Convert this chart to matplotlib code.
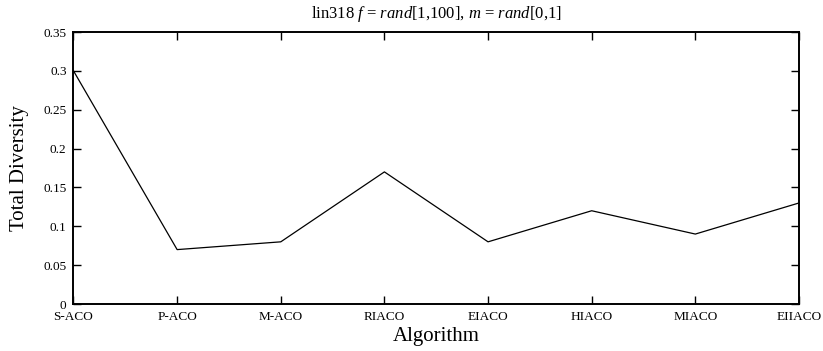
import matplotlib
matplotlib.use("Agg")
import matplotlib.pyplot as plt

# data
algorithms = ["S-ACO", "P-ACO", "M-ACO", "RIACO", "EIACO", "HIACO", "MIACO", "EIIACO"]
diversity = [0.30, 0.07, 0.08, 0.17, 0.08, 0.12, 0.09, 0.13]
y_ticks = [0, 0.05, 0.1, 0.15, 0.2, 0.25, 0.3, 0.35]
y_tick_labels = ["0", "0.05", "0.1", "0.15", "0.2", "0.25", "0.3", "0.35"]

plt.rcParams['font.family'] = ['Liberation Serif', 'DejaVu Serif']
plt.rcParams['mathtext.fontset'] = 'custom'
plt.rcParams['mathtext.rm'] = 'Liberation Serif'
plt.rcParams['mathtext.it'] = 'Liberation Serif:italic'

fig = plt.figure(figsize=(8.23, 3.51), dpi=100)
ax = fig.add_axes([0.0893, 0.1339, 0.8815, 0.7749])

x = list(range(len(algorithms)))
ax.plot(x, diversity, color='black', linewidth=0.9)

ax.set_xlim(0, len(algorithms) - 1)
ax.set_ylim(0, 0.35)
ax.set_xticks(x)
ax.set_xticklabels(algorithms)
ax.set_yticks(y_ticks)
ax.set_yticklabels(y_tick_labels)

for s in ax.spines.values():
    s.set_linewidth(1.4)
ax.tick_params(direction='in', length=6, width=1.0, top=True, right=True,
               labelsize=9.5)
ax.tick_params(axis='y', pad=5)
ax.tick_params(axis='x', pad=5)

ax.set_xlabel("Algorithm", fontsize=15, labelpad=3)
ax.set_ylabel("Total Diversity", fontsize=15, labelpad=10)
ax.set_title(r"lin318 $\mathit{f}$ = $\mathit{rand}$[1,100], $\mathit{m}$ = $\mathit{rand}$[0,1]",
             fontsize=12, pad=10)

fig.savefig("out.png", dpi=100)
